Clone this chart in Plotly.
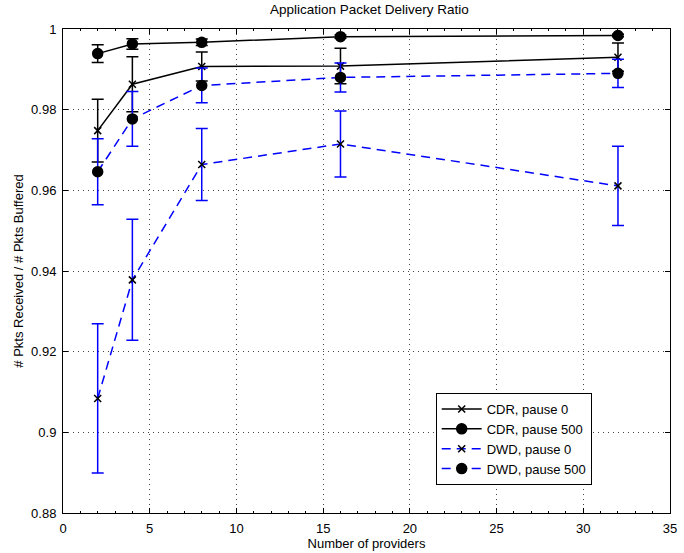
import plotly.graph_objects as go

providers = [2, 4, 8, 16, 32]

cdr_p0 = [0.9748, 0.9863, 0.9907, 0.9908, 0.9930]
cdr_p0_err = [0.0078, 0.0068, 0.0036, 0.0044, 0.0035]
cdr_p500 = [0.9939, 0.9963, 0.9967, 0.9981, 0.9984]
cdr_p500_err = [0.0022, 0.0013, 0.0008, 0.0004, 0.0003]
dwd_p0 = [0.9084, 0.9378, 0.9664, 0.9715, 0.9611]
dwd_p0_err = [0.0185, 0.0150, 0.0089, 0.0082, 0.0098]
dwd_p500 = [0.9646, 0.9777, 0.9860, 0.9880, 0.9890]
dwd_p500_err = [0.0082, 0.0068, 0.0043, 0.0036, 0.0035]

x_ticks = [0, 5, 10, 15, 20, 25, 30, 35]
y_ticks = [0.88, 0.9, 0.92, 0.94, 0.96, 0.98, 1.0]
y_tick_text = ["0.88", "0.9", "0.92", "0.94", "0.96", "0.98", "1"]

font = "Liberation Sans, Arial, sans-serif"

fig = go.Figure()

def add(name, y, err, color, dash, symbol, msize):
    fig.add_trace(go.Scatter(
        x=providers, y=y, name=name, mode="lines+markers",
        line=dict(color=color, width=1.5, dash=dash),
        marker=dict(symbol=symbol, size=msize, color="black",
                    line=dict(color="black", width=1.5)),
        error_y=dict(type="data", array=err, visible=True,
                     color=color, thickness=1.5, width=6),
    ))

add("CDR, pause 0", cdr_p0, cdr_p0_err, "black", "solid", "x-thin", 7)
add("CDR, pause 500", cdr_p500, cdr_p500_err, "black", "solid", "circle", 10)
add("DWD, pause 0", dwd_p0, dwd_p0_err, "#0000ff", "9px,6px", "x-thin", 7)
add("DWD, pause 500", dwd_p500, dwd_p500_err, "#0000ff", "9px,6px", "circle", 10)

axis_common = dict(
    showline=True, linecolor="black", linewidth=1, mirror="ticks",
    ticks="inside", ticklen=5, tickcolor="black",
    showgrid=True, gridcolor="#444444", griddash="1px,4px", gridwidth=1,
    zeroline=False, tickfont=dict(size=13, color="black", family=font),
    ticklabeloverflow="allow",
)

fig.update_xaxes(range=[0, 35], tickvals=x_ticks, ticklabelstandoff=3,
                 title=dict(text="Number of providers", font=dict(size=13, family=font, color="black"), standoff=0),
                 minor=dict(ticks="inside", ticklen=2, tickcolor="black", dtick=1, showgrid=False),
                 **axis_common)
fig.update_yaxes(range=[0.88, 1.0], tickvals=y_ticks, ticktext=y_tick_text, ticklabelstandoff=3,
                 title=dict(text="# Pkts Received / # Pkts Buffered", font=dict(size=13, family=font, color="black"), standoff=4),
                 **axis_common)

fig.update_layout(
    width=684, height=553,
    margin=dict(l=63, r=7, t=29, b=40),
    paper_bgcolor="white", plot_bgcolor="white",
    font=dict(family=font, size=13, color="black"),
    title=dict(text="Application Packet Delivery Ratio", x=0.54, xanchor="center",
               y=0.992, yanchor="top", font=dict(size=13.5, family=font, color="black")),
    legend=dict(x=0.614, y=0.248, xanchor="left", yanchor="top",
                bgcolor="white", bordercolor="black", borderwidth=1,
                font=dict(size=13, family=font, color="black"),
                tracegroupgap=0, itemwidth=40),
    showlegend=True,
)

fig.write_html("out.html")
